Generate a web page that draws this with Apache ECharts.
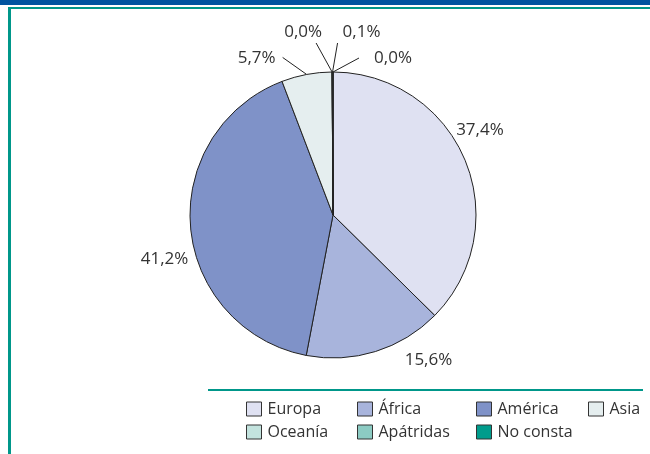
<!DOCTYPE html>
<html>
<head>
<meta charset="utf-8">
<script src="https://cdn.jsdelivr.net/npm/echarts@6/dist/echarts.min.js"></script>
<style>
html,body{margin:0;padding:0;background:#fff;}
#chart{width:650px;height:454px;}
</style>
</head>
<body>
<div id="chart"></div>
<script>
// ---- data ----
var categories = ['Europa', 'África', 'América', 'Asia', 'Oceanía', 'Apátridas', 'No consta'];
var values = [37.4, 15.6, 41.2, 5.7, 0.0, 0.1, 0.0];
var colors = ['#dfe1f2', '#a8b4dc', '#7f92c8', '#e5eeef', '#c3e3de', '#8ccbc3', '#009c8c'];

// ---- label placement (style) ----
var labelOffsets = [[15, -30], [53, 9], [-26, 32], [-50, -16], [-29, -40], [29, -40], [60, -14]];
var lineEnds = [null, null, null, [-24, -17], [-16, -29], [5, -29], [26, -14]];
var CX = 333, CY = 215, R = 143;
var FONT = '"Open Sans", "DejaVu Sans", sans-serif';

var total = values.reduce(function (a, b) { return a + b; }, 0);
function anchorOf(i) {
  var cum = 0;
  for (var k = 0; k < i; k++) cum += values[k];
  var frac = (cum + values[i] / 2) / total;
  var a = frac * 2 * Math.PI;
  return [CX + R * Math.sin(a), CY - R * Math.cos(a)];
}

var chart = echarts.init(document.getElementById('chart'), null, {renderer: 'canvas'});

var data = categories.map(function (c, i) {
  return {
    name: c,
    value: values[i],
    itemStyle: {color: colors[i]},
    labelLine: {show: lineEnds[i] !== null}
  };
});

function legendFor(names, left) {
  return {
    orient: 'vertical',
    left: left,
    top: 401,
    padding: 0,
    itemGap: 7,
    itemWidth: 15,
    itemHeight: 14,
    icon: 'rect',
    data: names,
    selectedMode: false,
    itemStyle: {borderColor: '#333', borderWidth: 1},
    textStyle: {fontFamily: FONT, fontSize: 16, color: '#333', lineHeight: 16, padding: [0, 0, 0, 1]}
  };
}

var option = {
  animation: false,
  backgroundColor: '#fff',
  color: colors,
  legend: [
    legendFor(['Europa', 'Oceanía'], 246),
    legendFor(['África', 'Apátridas'], 357),
    legendFor(['América', 'No consta'], 476),
    legendFor(['Asia'], 588)
  ],
  graphic: [
    {type: 'rect', shape: {x: 0, y: 0, width: 650, height: 5}, style: {fill: '#0054a0'}, silent: true},
    {type: 'rect', shape: {x: 8, y: 7, width: 642, height: 2}, style: {fill: '#00978a'}, silent: true},
    {type: 'rect', shape: {x: 8, y: 7, width: 3, height: 447}, style: {fill: '#00978a'}, silent: true},
    {type: 'rect', shape: {x: 208, y: 389, width: 435, height: 2}, style: {fill: '#00978a'}, silent: true}
  ],
  series: [{
    type: 'pie',
    center: [CX, CY],
    radius: [0, R],
    startAngle: 90,
    clockwise: true,
    avoidLabelOverlap: false,
    minShowLabelAngle: 0,
    data: data,
    itemStyle: {borderColor: '#222', borderWidth: 1},
    emphasis: {disabled: true},
    label: {
      show: true,
      position: 'outside',
      fontFamily: FONT,
      fontSize: 17,
      color: '#333',
      formatter: function (p) { return p.value.toFixed(1).replace('.', ',') + '%'; }
    },
    labelLine: {show: true, length: 10, length2: 10, smooth: false, lineStyle: {color: '#222', width: 1}},
    labelLayout: function (p) {
      var i = p.dataIndex;
      var an = anchorOf(i);
      var off = labelOffsets[i];
      var res = {
        x: an[0] + off[0],
        y: an[1] + off[1],
        align: 'center',
        verticalAlign: 'middle'
      };
      if (lineEnds[i]) {
        res.labelLinePoints = [[an[0], an[1]], [an[0] + lineEnds[i][0], an[1] + lineEnds[i][1]], [an[0] + lineEnds[i][0], an[1] + lineEnds[i][1]]];
      }
      return res;
    }
  }]
};
chart.setOption(option);
</script>
</body>
</html>
